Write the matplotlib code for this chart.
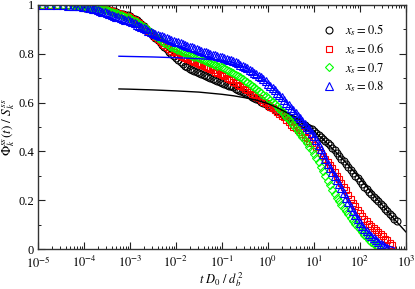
import numpy as np
import matplotlib
matplotlib.use("Agg")
import matplotlib.pyplot as plt
from matplotlib.ticker import MultipleLocator, NullFormatter, FixedLocator

plt.rcParams['font.family'] = ['Liberation Serif', 'DejaVu Serif']
plt.rcParams['mathtext.fontset'] = 'stix'

# ---- data: log10 of t D0/db^2 ----
log_t = [-4.92, -4.74, -4.58, -4.45, -4.34, -4.25, -4.17, -4.10, -4.03, -3.97,
         -3.90, -3.85, -3.80, -3.75, -3.70, -3.65, -3.60, -3.55, -3.50, -3.45,
         -3.40, -3.35, -3.30, -3.25, -3.20, -3.15, -3.10, -3.05, -3.00, -2.95,
         -2.90, -2.85, -2.80, -2.75, -2.70, -2.65, -2.60, -2.55, -2.50, -2.45,
         -2.40, -2.35, -2.30, -2.25, -2.20, -2.15, -2.10, -2.05, -2.00, -1.95,
         -1.90, -1.85, -1.80, -1.75, -1.70, -1.65, -1.60, -1.55, -1.50, -1.45,
         -1.40, -1.35, -1.30, -1.25, -1.20, -1.15, -1.10, -1.05, -1.00, -0.95,
         -0.90, -0.85, -0.80, -0.75, -0.70, -0.65, -0.60, -0.55, -0.50, -0.45,
         -0.40, -0.35, -0.30, -0.25, -0.20, -0.15, -0.10, -0.05, 0.00, 0.05,
         0.10, 0.15, 0.20, 0.25, 0.30, 0.35, 0.40, 0.45, 0.50, 0.55,
         0.60, 0.65, 0.70, 0.75, 0.80, 0.85, 0.90, 0.95, 1.00, 1.05,
         1.10, 1.15, 1.20, 1.25, 1.30, 1.35, 1.40, 1.45, 1.50, 1.55,
         1.60, 1.65, 1.70, 1.75, 1.80, 1.85, 1.90, 1.95, 2.00, 2.05,
         2.10, 2.15, 2.20, 2.25, 2.30, 2.35, 2.40, 2.45, 2.50, 2.55,
         2.60, 2.65, 2.70, 2.75, 2.80]

phi_05 = [1.0, 1.0, 1.0, 0.999, 0.999, 0.998, 0.998, 0.997, 0.996, 0.995,
          .994, .993, .992, .990, .989, .988, .986, .984, .982, .980,
          .977, .974, .971, .968, .965, .963, .960, .957, .953, .948,
          .943, .937, .930, .921, .912, .903, .894, .885, .875, .866,
          .857, .848, .838, .828, .818, .809, .800, .791, .782, .773,
          .765, .757, .750, .744, .738, .733, .728, .724, .720, .716,
          .712, .708, .704, .700, .697, .693, .690, .686, .682, .678,
          .674, .670, .666, .662, .657, .652, .648, .643, .639, .635,
          .630, .625, .619, .614, .609, .603, .598, .593, .588, .583,
          .577, .571, .566, .561, .556, .551, .546, .541, .537, .533,
          .528, .523, .518, .513, .507, .502, .496, .490, .483, .476,
          .468, .460, .452, .443, .434, .425, .415, .404, .392, .381,
          .370, .360, .350, .338, .325, .312, .300, .290, .280, .267,
          .255, .245, .235, .225, .215, .205, .195, .185, .175, .165,
          .155, .145, .135, .125, .115]

phi_06 = [1.0, 1.0, 1.0, 0.999, 0.999, 0.998, 0.997, 0.996, 0.995, 0.994,
          .993, .992, .991, .990, .988, .986, .984, .982, .980, .978,
          .975, .972, .969, .966, .962, .959, .956, .953, .949, .944,
          .938, .932, .925, .917, .909, .901, .892, .884, .876, .868,
          .860, .852, .843, .835, .826, .819, .812, .806, .800, .795,
          .790, .786, .781, .777, .773, .769, .765, .761, .757, .753,
          .749, .745, .741, .737, .732, .727, .722, .717, .712, .707,
          .702, .697, .691, .686, .680, .674, .668, .662, .656, .650,
          .643, .637, .630, .624, .617, .611, .604, .597, .590, .584,
          .577, .570, .563, .555, .547, .539, .530, .520, .510, .502,
          .494, .486, .478, .470, .461, .453, .444, .436, .428, .417,
          .405, .393, .380, .369, .357, .344, .330, .315, .300, .285,
          .270, .255, .240, .222, .205, .190, .175, .161, .148, .136,
          .124, .113, .103, .094, .085, .076, .068, .060, .052, .043,
          .035, .026, .018]

phi_07 = [1.0, 1.0, 1.0, 0.999, 0.999, 0.998, 0.997, 0.996, 0.995, 0.994,
          .992, .991, .990, .988, .986, .984, .982, .980, .978, .975,
          .972, .969, .966, .963, .959, .956, .952, .949, .945, .940,
          .935, .930, .924, .918, .911, .904, .896, .888, .880, .873,
          .866, .859, .852, .845, .839, .833, .828, .823, .818, .814,
          .810, .806, .802, .799, .795, .792, .788, .785, .781, .778,
          .774, .771, .767, .764, .760, .756, .752, .748, .744, .740,
          .735, .730, .725, .720, .714, .709, .703, .697, .690, .684,
          .677, .670, .663, .656, .648, .641, .633, .626, .618, .610,
          .602, .594, .585, .575, .565, .554, .543, .532, .520, .509,
          .497, .485, .473, .461, .448, .434, .420, .405, .390, .373,
          .355, .337, .318, .299, .280, .262, .243, .227, .210, .195,
          .180, .168, .155, .142, .128, .116, .103, .092, .080, .069,
          .058, .048, .038, .030, .022, .016, .010]

phi_08 = [1.0, 1.0, 0.999, 0.998, 0.997, 0.996, 0.995, 0.994, 0.992, 0.990,
          .988, .987, .985, .983, .980, .977, .973, .970, .966, .963,
          .959, .955, .952, .949, .946, .943, .940, .937, .934, .930,
          .925, .920, .915, .910, .905, .900, .895, .890, .885, .882,
          .878, .875, .871, .868, .864, .861, .857, .854, .850, .847,
          .843, .840, .836, .833, .829, .826, .822, .819, .815, .812,
          .809, .806, .803, .800, .797, .794, .791, .788, .785, .782,
          .779, .776, .773, .769, .765, .761, .756, .751, .746, .741,
          .735, .729, .723, .717, .710, .703, .695, .687, .678, .669,
          .660, .651, .641, .631, .621, .611, .600, .590, .579, .569,
          .558, .547, .536, .525, .514, .502, .490, .476, .462, .446,
          .428, .410, .390, .370, .350, .332, .315, .299, .283, .266,
          .248, .229, .210, .191, .172, .155, .138, .123, .108, .095,
          .083, .072, .062, .053, .045, .037, .030, .022, .015, .010,
          .006]

# fitted curves
fit_log_t = [-3.24, -3.0, -2.5, -2.0, -1.5, -1.0, -0.75, -0.5, -0.25, 0.0,
             0.25, 0.5, 0.75, 1.0, 1.25, 1.5, 1.75, 2.0, 2.25, 2.5, 2.75, 3.0]
fit_05 = [0.656, 0.655, 0.652, 0.648, 0.643, 0.634, 0.628, 0.620, 0.610, 0.596,
          0.575, 0.550, 0.520, 0.483, 0.440, 0.393, 0.343, 0.290, 0.232, 0.177, 0.122, 0.070]
fit_08 = [0.790, 0.789, 0.787, 0.784, 0.780, 0.773, 0.764, 0.745, 0.717, 0.680,
          0.632, 0.580, 0.525, 0.462, 0.370, 0.285, 0.190, 0.108, 0.055, 0.020, 0.004]

x_ticks = [1e-5, 1e-4, 1e-3, 1e-2, 1e-1, 1e0, 1e1, 1e2, 1e3]
x_ticklabels = [r'$10^{-5}$', r'$10^{-4}$', r'$10^{-3}$', r'$10^{-2}$', r'$10^{-1}$',
                r'$10^{0}$', r'$10^{1}$', r'$10^{2}$', r'$10^{3}$']
y_ticks = [0, 0.2, 0.4, 0.6, 0.8, 1.0]
y_ticklabels = ['0', '0.2', '0.4', '0.6', '0.8', '1']

labels = [r'$x_s = 0.5$', r'$x_s = 0.6$', r'$x_s = 0.7$', r'$x_s = 0.8$']
colors = ['black', 'red', '#00ff00', 'blue']
markers = ['o', 's', 'D', '^']
msizes = [5.0, 4.6, 3.8, 5.2]

fig = plt.figure(figsize=(4.15, 2.89), dpi=100)
ax = fig.add_axes([0.0916, 0.1384, 0.8864, 0.8443])

series = [phi_05, phi_06, phi_07, phi_08]
t_all = 10.0 ** np.array(log_t)
handles = []
for i, ys in enumerate(series):
    n = len(ys)
    h, = ax.plot(t_all[:n], ys, linestyle='none', marker=markers[i], ms=msizes[i],
                 mfc='none', mec=colors[i], mew=0.8, label=labels[i], zorder=2 + i * 0.1)
    handles.append(h)

ft = 10.0 ** np.array(fit_log_t)
ax.plot(ft, fit_05, color='black', lw=1.0, zorder=2.25)
ax.plot(ft[:len(fit_08)], fit_08, color='blue', lw=1.0, zorder=2.25)

ax.set_xscale('log')
ax.set_xlim(1e-5, 1e3)
ax.set_ylim(0, 1)
ax.xaxis.set_major_locator(FixedLocator(x_ticks))
ax.set_xticklabels(x_ticklabels)
minor = [m * 10.0 ** e for e in range(-5, 3) for m in range(2, 10)]
ax.xaxis.set_minor_locator(FixedLocator(minor))
ax.xaxis.set_minor_formatter(NullFormatter())
ax.set_yticks(y_ticks)
ax.set_yticklabels(y_ticklabels)
ax.yaxis.set_minor_locator(MultipleLocator(0.1))

ax.tick_params(which='both', direction='in', top=True, right=True, labelsize=9,
               colors='#222222', labelcolor='black')
ax.tick_params(which='major', length=5, width=0.8)
ax.tick_params(which='minor', length=2.5, width=0.7)
ax.tick_params(axis='x', pad=4.5)
ax.tick_params(axis='y', pad=3)
for sp in ax.spines.values():
    sp.set_linewidth(1.0)
    sp.set_color('#333333')

ax.set_xlabel(r'$t\ D_0\ /\ d_b^{\,2}$', fontsize=9)
ax.set_ylabel(r'$\Phi_k^{ss}(t)\ /\ S_k^{ss}$', fontsize=9.5)
ax.xaxis.set_label_coords(0.5, -0.086)
ax.yaxis.set_label_coords(-0.058, 0.5)

leg = ax.legend(handles=handles, loc='upper right', bbox_to_anchor=(0.955, 0.95),
                frameon=False, fontsize=9, handlelength=1.0, handletextpad=0.8,
                labelspacing=0.28, borderaxespad=0.0)

fig.savefig('out.png', dpi=100)
